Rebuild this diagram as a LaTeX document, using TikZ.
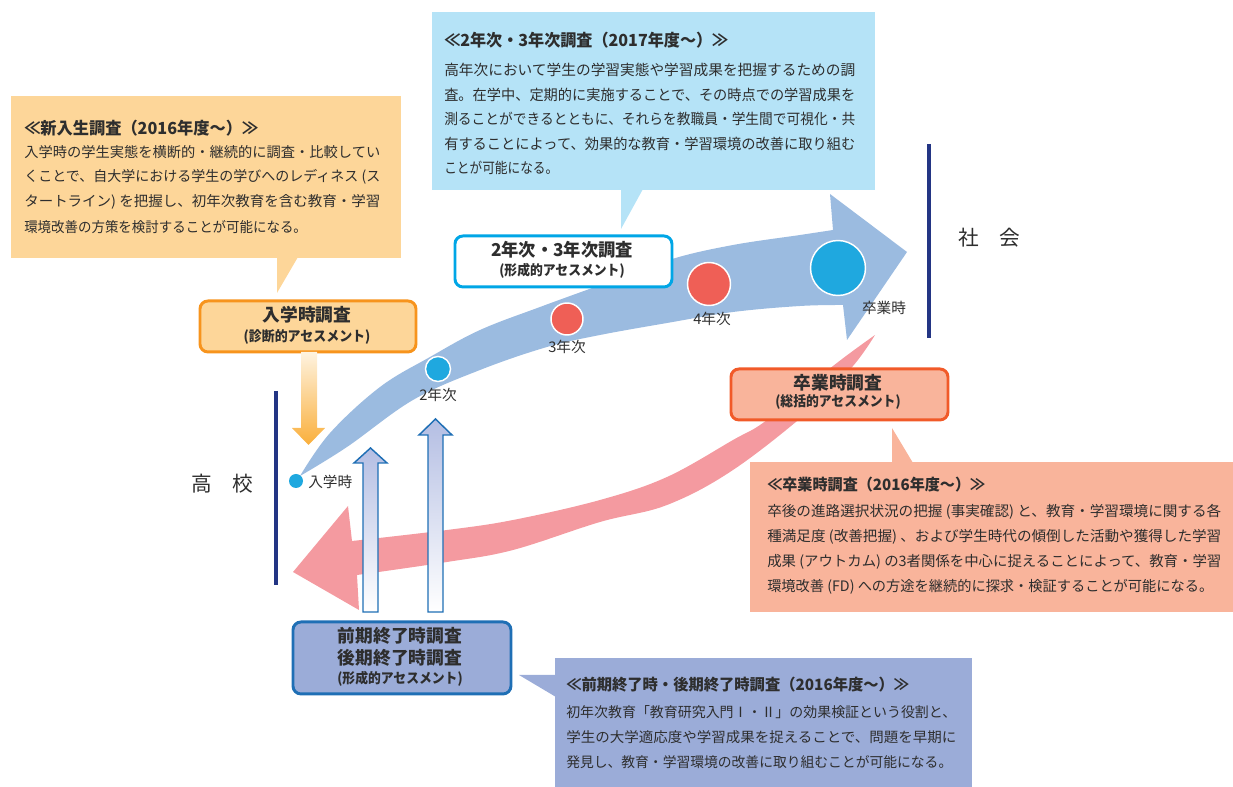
\documentclass[tikz,border=0pt]{standalone}
\usepackage{graphicx}
\usepackage{fontspec}
\setmainfont{Noto Sans CJK JP}
\newcommand\fitw[2]{\resizebox{#1}{\height}{#2}}
\definecolor{ofill}{HTML}{FDD699}
\definecolor{oline}{HTML}{F7941D}
\definecolor{ocream}{HTML}{FEF3E0}
\definecolor{oarrow}{HTML}{FAAF3B}
\definecolor{bfill}{HTML}{B5E3F7}
\definecolor{cline}{HTML}{00A6E6}
\definecolor{barrow}{HTML}{9BBBE0}
\definecolor{parrow}{HTML}{F49AA0}
\definecolor{sfill}{HTML}{F9B49B}
\definecolor{sline}{HTML}{F15A29}
\definecolor{pfill}{HTML}{9BACD8}
\definecolor{pline}{HTML}{1F6FB5}
\definecolor{navy}{HTML}{233584}
\definecolor{reddot}{HTML}{EF5F56}
\definecolor{cyandot}{HTML}{1FA8DF}
\definecolor{txt}{HTML}{2E2E2E}
\definecolor{uptop}{HTML}{B4BEE3}
\begin{document}
\begin{tikzpicture}[x=0.75pt,y=-0.75pt,
  callout/.style={fill=#1, draw=none, inner sep=0, anchor=north west, rectangle},
  box/.style={draw=#1, line width=2.2pt, rounded corners=6pt, inner sep=0, anchor=north west, rectangle},
  tl/.style={anchor=west, inner sep=0, text=txt},
  tc/.style={anchor=center, inner sep=0, text=txt},
  ttlA/.style={tl, font=\fontsize{12.5}{15}\selectfont\bfseries},
  ttlB/.style={tl, font=\fontsize{11.7}{14}\selectfont\bfseries},
  bodyO/.style={tl, font=\fontsize{10.7}{13}\selectfont},
  bodyB/.style={tl, font=\fontsize{11}{13}\selectfont},
  bodyP/.style={tl, font=\fontsize{10.8}{13}\selectfont},
  bodyQ/.style={tl, font=\fontsize{10.6}{13}\selectfont},
  bxt/.style={tc, font=\fontsize{13.3}{16}\selectfont\bfseries},
  bxs/.style={tc, font=\fontsize{10.5}{12}\selectfont\bfseries},
  dlab/.style={tc, font=\fontsize{11}{13}\selectfont},
  side/.style={tc, font=\fontsize{15.5}{18}\selectfont},
  dot/.style={circle, fill=#1, draw=white, line width=1.1pt, inner sep=0},
  uparrow/.style={top color=uptop, middle color=uptop!75!white, bottom color=white, draw=pline, line width=1.1pt}
]
\useasboundingbox (0,0) rectangle (1233,787);

% ---------- callouts ----------
\node[callout=ofill, minimum width=292.5pt, minimum height=121.5pt] (c1) at (11,96) {};
\coordinate (c1a) at (277,257); \coordinate (c1b) at (298,257); \coordinate (c1t) at (277,293);
\fill[ofill] (c1a) -- (c1b) -- (c1t) -- cycle;

\node[callout=bfill, minimum width=332.25pt, minimum height=133.5pt] (c2) at (432,12) {};
\coordinate (c2a) at (621,189); \coordinate (c2b) at (643,189); \coordinate (c2t) at (621,229);
\fill[bfill] (c2a) -- (c2b) -- (c2t) -- cycle;

\node[callout=sfill, minimum width=362.25pt, minimum height=112.5pt] (c3) at (750,462) {};
\coordinate (c3a) at (892,463); \coordinate (c3b) at (913,463); \coordinate (c3t) at (892,428);
\fill[sfill] (c3a) -- (c3b) -- (c3t) -- cycle;

\node[callout=pfill, minimum width=312.75pt, minimum height=96.75pt] (c4) at (555,658) {};
\coordinate (c4a) at (556,675); \coordinate (c4b) at (556,697); \coordinate (c4t) at (519,675);
\fill[pfill] (c4a) -- (c4b) -- (c4t) -- cycle;

% ---------- big blue arrow ----------
\fill[barrow] plot[smooth, tension=0.6] coordinates {(300,476) (330,433) (380,387) (430,357) (480,330) (540,307) (606,283) (672,259) (733,245) (800,235) (833,230)}
  -- (830,194) -- (907,252) -- (847,340) -- (843,305)
  -- plot[smooth, tension=0.6] coordinates {(843,305) (800,306) (733,312) (667,323) (600,335) (547,347) (480,370) (413,400) (347,447) (300,476)} -- cycle;

% ---------- pink arrow ----------
\fill[parrow] (293,572) -- (348,506) -- (352,541)
  -- plot[smooth, tension=0.6] coordinates {(352,541) (447,530) (513,520) (600,500) (667,477) (733,440) (767,420) (833,366) (875,335)}
  -- plot[smooth, tension=0.6] coordinates {(875,335) (853,366) (810,410) (733,470) (667,505) (600,522) (513,550) (447,562) (357,575)}
  -- (359,610) -- cycle;

% ---------- vertical lines ----------
\coordinate (hs1) at (276,391); \coordinate (hs2) at (276,585);
\coordinate (so1) at (929,144); \coordinate (so2) at (929,338);
\draw[navy, line width=3pt] (hs1) -- (hs2);
\draw[navy, line width=3pt] (so1) -- (so2);
\node[side] (hs) at (222,484) {高　校};
\node[side] (so) at (989,238) {社　会};

% ---------- boxes ----------
\node[box=oline, fill=ofill, minimum width=162pt, minimum height=38.25pt] (b1) at (198.5,299.5) {};
\node[bxt] (b1t) at (307,315) {入学時調査};
\node[bxs] (b1s) at (307,337) {\fitw{95pt}{(診断的アセスメント)}};

\node[box=cline, fill=white, minimum width=162.75pt, minimum height=38.25pt] (b2) at (453.5,234.5) {};
\node[bxt] (b2t) at (562,250) {\fitw{106.5pt}{2年次・3年次調査}};
\node[bxs] (b2s) at (562,271) {\fitw{94pt}{(形成的アセスメント)}};

\node[box=sline, fill=sfill, minimum width=162.75pt, minimum height=38.25pt] (b3) at (729.5,367.5) {};
\node[bxt] (b3t) at (838,383) {卒業時調査};
\node[bxs] (b3s) at (838,402) {\fitw{94pt}{(総括的アセスメント)}};

\node[box=pline, fill=pfill, minimum width=163.5pt, minimum height=54pt] (b4) at (291.5,620.5) {};
\node[bxt] (b4t) at (400,636) {前期終了時調査};
\node[bxt] (b4u) at (400,658) {後期終了時調査};
\node[bxs] (b4s) at (400,679) {\fitw{94pt}{(形成的アセスメント)}};

% ---------- orange down arrow ----------
\shade[top color=ocream, bottom color=oarrow] (301,352) -- (317,352) -- (317,428) -- (325,428) -- (308.5,445) -- (292,428) -- (301,428) -- cycle;

% ---------- up arrows ----------
\coordinate (u1) at (370.5,612); \coordinate (u2) at (435.5,612);
\shade[uparrow] (363,612) -- (363,463) -- (354,463) -- (370.5,448) -- (387,463) -- (378,463) -- (378,612) -- cycle;
\shade[uparrow] (428,612) -- (428,435) -- (419,435) -- (435.5,419) -- (452,435) -- (443,435) -- (443,612) -- cycle;

% ---------- dots ----------
\node[circle, fill=cyandot, inner sep=0, minimum size=10.5pt] (d0) at (296,481) {};
\node[dot=cyandot, minimum size=18.75pt] (d2) at (438,369) {};
\node[dot=reddot, minimum size=24pt] (d3) at (567,319) {};
\node[dot=reddot, minimum size=32.25pt] (d4) at (709,284) {};
\node[dot=cyandot, minimum size=41.25pt] (d5) at (838,268) {};
\node[dlab, anchor=west] (l0) at (308,482) {入学時};
\node[dlab] (l2) at (438,395) {2年次};
\node[dlab] (l3) at (567,347) {3年次};
\node[dlab] (l4) at (712,319) {4年次};
\node[dlab] (l5) at (884,308) {卒業時};

% ---------- callout texts ----------
\node[ttlA] (o0) at (24,128) {\fitw{175.5pt}{≪新入生調査（2016年度〜）≫}};
\node[bodyO] (o1) at (24,152) {\fitw{267pt}{入学時の学生実態を横断的・継続的に調査・比較してい}};
\node[bodyO] (o2) at (24,177) {\fitw{267pt}{くことで、自大学における学生の学びへのレディネス (ス}};
\node[bodyO] (o3) at (24,202) {\fitw{267pt}{タートライン) を把握し、初年次教育を含む教育・学習}};
\node[bodyO] (o4) at (24,227) {\fitw{212pt}{環境改善の方策を検討することが可能になる。}};

\node[ttlA] (q0) at (444,40) {\fitw{213pt}{≪2年次・3年次調査（2017年度〜）≫}};
\node[bodyB] (q1) at (444,70) {\fitw{308.25pt}{高年次において学生の学習実態や学習成果を把握するための調}};
\node[bodyB] (q2) at (444,94.5) {\fitw{308.25pt}{査。在学中、定期的に実施することで、その時点での学習成果を}};
\node[bodyB] (q3) at (444,119) {\fitw{308.25pt}{測ることができるとともに、それらを教職員・学生間で可視化・共}};
\node[bodyB] (q4) at (444,143.5) {\fitw{308.25pt}{有することによって、効果的な教育・学習環境の改善に取り組む}};
\node[bodyB] (q5) at (444,168) {\fitw{85.5pt}{ことが可能になる。}};

\node[ttlB] (p0) at (767,485) {\fitw{163.5pt}{≪卒業時調査（2016年度〜）≫}};
\node[bodyP] (p1) at (767,512) {\fitw{340.5pt}{卒後の進路選択状況の把握 (事実確認) と、教育・学習環境に関する各}};
\node[bodyP] (p2) at (767,537) {\fitw{340.5pt}{種満足度 (改善把握) 、および学生時代の傾倒した活動や獲得した学習}};
\node[bodyP] (p3) at (767,562) {\fitw{340.5pt}{成果 (アウトカム) の3者関係を中心に捉えることによって、教育・学習}};
\node[bodyP] (p4) at (767,587) {\fitw{334.5pt}{環境改善 (FD) への方途を継続的に探求・検証することが可能になる。}};

\node[ttlB] (r0) at (566,685) {\fitw{257.25pt}{≪前期終了時・後期終了時調査（2016年度〜）≫}};
\node[bodyQ] (r1) at (566,712) {\fitw{292.5pt}{初年次教育「教育研究入門Ⅰ・Ⅱ」の効果検証という役割と、}};
\node[bodyQ] (r2) at (566,737) {\fitw{292.5pt}{学生の大学適応度や学習成果を捉えることで、問題を早期に}};
\node[bodyQ] (r3) at (566,762) {\fitw{289.5pt}{発見し、教育・学習環境の改善に取り組むことが可能になる。}};
\end{tikzpicture}
\end{document}
